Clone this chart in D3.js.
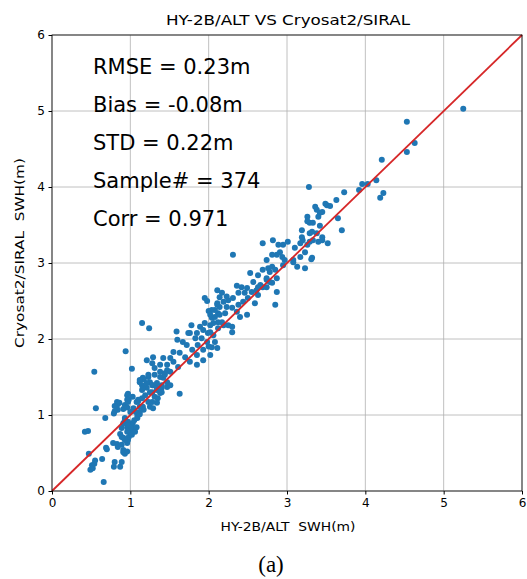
<!DOCTYPE html>
<html>
<head>
<meta charset="UTF-8">
<title>HY-2B/ALT VS Cryosat2/SIRAL</title>
<style>
    html, body { margin: 0; padding: 0; background: #fff; }
    svg { display: block; }
    .grid line { stroke: #b0b0b0; stroke-width: 0.8px; }
    .axis text { font-family: "DejaVu Sans", sans-serif; font-size: 12px; fill: #000; }
    .axis path, .axis line { stroke: #000; }
    .stats text { font-family: "DejaVu Sans", sans-serif; font-size: 21px; fill: #000; }
</style>
</head>
<body>
<svg width="527" height="579"></svg>
<script src="https://d3js.org/d3.v7.min.js"></script>
<script>
// axis ticks
const xTicks = [0, 1, 2, 3, 4, 5, 6];
const yTicks = [0, 1, 2, 3, 4, 5, 6];

// statistics printed in the plot
const statLines = ["RMSE = 0.23m", "Bias = -0.08m", "STD = 0.22m", "Sample# = 374", "Corr = 0.971"];

// [HY-2B SWH, Cryosat2 SWH]
const samples = [
  [0.54,1.57],[1.02,1.61],[0.56,1.09],[0.68,0.96],[0.42,0.78],[0.46,0.79],[0.47,0.49],[0.51,0.34],
  [0.54,0.36],[0.49,0.28],[0.64,0.42],[0.66,0.12],[0.69,0.57],[0.78,0.63],[0.80,0.38],[0.79,0.32],
  [0.87,0.32],[0.89,0.38],[0.91,0.51],[0.93,0.49],[0.83,0.62],[0.84,0.58],[0.87,0.75],[0.91,0.70],
  [0.96,0.63],[0.97,0.67],[0.83,1.17],[0.86,1.16],[0.84,1.07],[0.80,1.05],[0.91,1.08],[0.96,1.20],
  [0.97,1.28],[1.10,1.20],[1.12,1.04],[1.09,0.96],[1.03,0.89],[1.02,0.80],[1.00,0.76],[0.96,0.84],
  [0.97,0.91],[0.93,0.96],[0.91,0.89],[0.89,0.83],[1.12,1.43],[1.16,1.49],[1.23,1.50],[1.25,1.43],
  [1.29,1.39],[1.21,1.36],[1.28,1.30],[1.31,1.24],[1.35,1.22],[1.38,1.29],[1.34,1.36],[1.40,1.39],
  [1.42,1.49],[1.44,1.55],[1.47,1.59],[1.38,1.57],[1.15,1.33],[1.19,1.26],[1.23,1.17],[1.16,1.11],
  [1.25,1.11],[1.29,1.09],[1.34,1.16],[1.47,1.37],[0.52,0.30],[0.55,0.40],[0.70,0.55],[0.89,0.61],
  [0.91,0.54],[0.96,0.52],[0.79,1.02],[0.84,1.14],[0.80,1.12],[0.96,1.26],[0.98,1.20],[0.93,1.13],
  [0.96,1.10],[1.00,1.04],[0.93,0.93],[0.97,0.87],[1.02,0.83],[0.96,0.78],[0.98,0.71],[0.93,0.67],
  [0.89,0.71],[1.02,0.74],[1.06,0.78],[1.08,0.84],[1.05,0.93],[1.09,0.99],[1.07,1.04],[1.04,1.09],
  [1.12,1.11],[1.17,1.07],[1.12,1.01],[1.10,1.18],[1.15,1.22],
  [1.15,2.21],[1.24,2.14],[0.94,1.84],[1.95,2.54],[2.00,2.37],[2.04,2.28],[2.11,2.45],[2.12,2.34],
  [1.59,2.10],[1.78,2.18],[1.76,2.08],[1.89,2.16],[1.93,2.12],[1.99,2.08],[2.06,2.05],[2.12,2.14],
  [1.60,1.99],[1.67,1.96],[1.72,1.92],[1.83,2.01],[1.91,2.01],[1.86,1.92],[1.98,1.96],[2.04,1.89],
  [2.11,1.88],[1.79,1.86],[1.93,1.86],[1.85,1.79],[1.76,1.70],[1.70,1.76],[1.63,1.82],[1.55,1.83],
  [1.51,1.75],[1.42,1.75],[1.29,1.76],[1.21,1.72],[1.28,1.68],[1.31,1.62],[1.38,1.66],[1.47,1.66],
  [1.55,1.70],[1.61,1.63],[1.51,1.57],[1.44,1.53],[1.38,1.50],[1.31,1.53],[1.23,1.53],[1.17,1.47],
  [1.12,1.46],[1.15,1.39],[1.21,1.42],[1.28,1.39],[1.34,1.42],[1.40,1.36],[1.47,1.43],[1.51,1.39],
  [1.25,1.30],[1.34,1.33],[1.40,1.30],[1.16,1.36],[1.03,1.24],[0.97,1.17],[1.08,1.17],[1.28,1.17],
  [1.63,1.28],[1.85,1.66],[1.93,1.72],[2.02,1.79],[2.08,1.96],
  [2.31,3.11],[2.69,3.26],[2.74,3.04],[2.76,2.93],[2.69,2.91],[2.63,2.84],[2.53,2.87],[2.66,2.71],
  [2.74,2.78],[2.57,2.75],[2.49,2.67],[2.42,2.68],[2.38,2.61],[2.46,2.61],[2.55,2.62],[2.61,2.64],
  [2.50,2.54],[2.44,2.49],[2.38,2.45],[2.31,2.54],[2.25,2.51],[2.19,2.49],[2.14,2.42],[2.23,2.42],
  [2.30,2.41],[2.36,2.36],[2.40,2.29],[2.49,2.32],[2.21,2.34],[2.14,2.32],[2.08,2.29],[2.12,2.22],
  [2.06,2.21],[2.02,2.18],[1.95,2.21],[1.98,2.50],[2.11,2.64],[2.14,2.55],[2.11,2.47],[2.08,2.38],
  [2.04,2.38],[2.02,2.32],[2.02,2.09],[1.85,2.08],[1.74,2.08],[2.30,2.09],[2.25,2.18],[2.19,2.18],
  [2.36,2.70],[2.59,2.47],[2.17,2.61],[2.23,2.56],[2.63,2.58],[2.69,2.68],[2.78,2.75],[2.87,2.62],
  [2.85,2.45],[2.17,2.22],[2.30,2.16],[2.00,1.90],
  [3.51,3.76],[3.42,3.66],[3.38,3.70],[3.40,3.61],[3.26,3.61],[3.29,3.53],[3.33,3.53],[3.42,3.49],
  [3.19,3.43],[3.29,3.39],[3.38,3.39],[3.45,3.34],[3.52,3.26],[3.33,3.30],[3.40,3.28],[3.29,3.28],
  [3.20,3.30],[3.26,3.24],[3.17,3.26],[3.19,3.34],[3.23,3.14],[3.10,3.20],[3.32,3.07],[3.23,2.93],
  [3.01,3.28],[2.95,3.24],[2.89,3.24],[2.82,3.30],[2.91,3.14],[2.94,3.08],[2.97,3.04],[2.87,3.11],
  [2.81,3.11],[2.81,2.95],[2.85,2.91],[2.78,2.88],[2.74,2.80],[2.87,2.80],[2.81,2.74],[2.74,2.68],
  [2.63,2.68],[2.95,2.97],[3.08,3.04],[3.17,3.08],[3.13,2.95],[3.31,3.05],[3.08,3.01],
  [3.28,4.00],[3.73,3.93],[3.92,3.96],[3.96,4.04],[4.03,4.04],[4.14,4.09],[4.21,4.36],[4.19,3.86],
  [4.23,3.92],[3.63,3.83],[3.55,3.75],[3.49,3.78],[3.45,3.67],[3.36,3.74],[3.26,3.55],[3.32,3.41],
  [3.70,3.43],[3.65,3.59],[3.45,3.30],
  [5.25,5.03],[4.53,4.86],[4.63,4.58],[4.53,4.46]
];

const svg = d3.select("svg");
const plotLeft = 52, plotRight = 522, plotTop = 35, plotBottom = 491;

const x = d3.scaleLinear().domain([0, 6]).range([plotLeft, plotRight]);
const y = d3.scaleLinear().domain([0, 6]).range([plotBottom, plotTop]);

// grid
const grid = svg.append("g").attr("class", "grid");
grid.selectAll(".gx").data(xTicks).enter().append("line")
    .attr("x1", d => x(d)).attr("x2", d => x(d))
    .attr("y1", plotTop).attr("y2", plotBottom);
grid.selectAll(".gy").data(yTicks).enter().append("line")
    .attr("x1", plotLeft).attr("x2", plotRight)
    .attr("y1", d => y(d)).attr("y2", d => y(d));

// points
svg.append("g").selectAll("circle")
    .data(samples)
    .enter().append("circle")
    .attr("cx", d => x(d[0]))
    .attr("cy", d => y(d[1]))
    .attr("r", 3)
    .attr("fill", "#1f77b4");

// 1:1 line
svg.append("line")
    .attr("x1", x(0)).attr("y1", y(0))
    .attr("x2", x(6)).attr("y2", y(6))
    .attr("stroke", "#d62728")
    .attr("stroke-width", 1.8);

// frame
svg.append("rect")
    .attr("x", plotLeft).attr("y", plotTop)
    .attr("width", plotRight - plotLeft).attr("height", plotBottom - plotTop)
    .attr("fill", "none").attr("stroke", "#000").attr("stroke-width", 0.8);

// axes
svg.append("g").attr("class", "axis")
    .attr("transform", `translate(0,${plotBottom})`)
    .call(d3.axisBottom(x).tickValues(xTicks).tickFormat(d3.format("d")).tickSize(3.5).tickPadding(3.5))
    .call(g => g.select(".domain").remove());
svg.append("g").attr("class", "axis")
    .attr("transform", `translate(${plotLeft},0)`)
    .call(d3.axisLeft(y).tickValues(yTicks).tickFormat(d3.format("d")).tickSize(3.5).tickPadding(3.5))
    .call(g => g.select(".domain").remove());

// stats
svg.append("g").attr("class", "stats")
    .selectAll("text").data(statLines).enter().append("text")
    .attr("x", 93)
    .attr("y", (d, i) => 74 + i * 38)
    .text(d => d);

// labels
svg.append("text")
    .attr("x", (plotLeft + plotRight) / 2 + 1).attr("y", 25)
    .attr("text-anchor", "middle")
    .attr("textLength", 244)
    .attr("lengthAdjust", "spacingAndGlyphs")
    .style("font-family", "DejaVu Sans, sans-serif").style("font-size", "14px")
    .text("HY-2B/ALT VS Cryosat2/SIRAL");

svg.append("text")
    .attr("x", (plotLeft + plotRight) / 2 + 1).attr("y", 531)
    .attr("text-anchor", "middle")
    .attr("textLength", 135)
    .attr("lengthAdjust", "spacingAndGlyphs")
    .style("white-space", "pre")
    .style("font-family", "DejaVu Sans, sans-serif").style("font-size", "12.5px")
    .text("HY-2B/ALT  SWH(m)");

svg.append("text")
    .attr("transform", `translate(24,${(plotTop + plotBottom) / 2 - 10}) rotate(-90)`)
    .attr("text-anchor", "middle")
    .attr("textLength", 190)
    .attr("lengthAdjust", "spacingAndGlyphs")
    .style("white-space", "pre")
    .style("font-family", "DejaVu Sans, sans-serif").style("font-size", "12.5px")
    .text("Cryosat2/SIRAL  SWH(m)");

svg.append("text")
    .attr("x", 271).attr("y", 572)
    .attr("text-anchor", "middle")
    .style("font-family", "Liberation Serif, serif").style("font-size", "23px")
    .text("(a)");
</script>
</body>
</html>
